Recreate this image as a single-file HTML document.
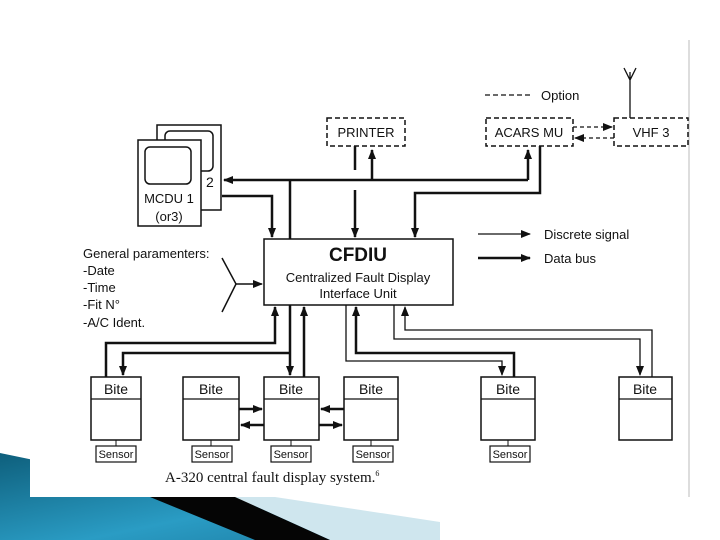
<!DOCTYPE html>
<html><head><meta charset="utf-8"><style>
html,body{margin:0;padding:0;background:#fff;width:720px;height:540px;overflow:hidden}
svg{display:block}
text{font-family:"Liberation Sans",sans-serif;fill:#111}
text.serif{font-family:"Liberation Serif",serif}
</style></head><body>
<svg width="720" height="540" viewBox="0 0 720 540" xmlns="http://www.w3.org/2000/svg">
<defs>
<marker id="a" markerWidth="10" markerHeight="8" refX="9" refY="4" orient="auto" markerUnits="userSpaceOnUse"><path d="M0,0 L10,4 L0,8 Z" fill="#111"/></marker>
<linearGradient id="bl" x1="0" y1="0" x2="1" y2="1"><stop offset="0" stop-color="#0e5f7c"/><stop offset="0.6" stop-color="#2a9cc4"/><stop offset="1" stop-color="#1c7aa0"/></linearGradient>
</defs>
<polygon points="0,453 420,540 0,540" fill="url(#bl)"/>
<polygon points="235,497 275,497 440,522 440,540 330,540" fill="#cfe6ee"/>
<polygon points="150,497 235,497 330,540 255,540" fill="#050505"/>
<rect x="30" y="40" width="660" height="457" fill="#fff"/>
<line x1="689" y1="40" x2="689" y2="497" stroke="#ddd" stroke-width="2"/>

<g stroke="#111" fill="none">
<rect x="157" y="125" width="64" height="85" stroke-width="1.5" fill="#fff"/>
<rect x="165" y="131" width="48" height="40" rx="5" stroke-width="1.5"/>
<rect x="138" y="140" width="63" height="86" stroke-width="1.5" fill="#fff"/>
<rect x="145" y="147" width="46" height="37" rx="5" stroke-width="1.5"/>
<rect x="327" y="118" width="78" height="28" stroke-width="1.5" stroke-dasharray="5,3"/>
<rect x="486" y="118" width="87" height="28" stroke-width="1.5" stroke-dasharray="5,3"/>
<rect x="614" y="118" width="74" height="28" stroke-width="1.5" stroke-dasharray="5,3"/>
<line x1="485" y1="95" x2="532" y2="95" stroke-width="1.3" stroke-dasharray="5,3"/>
<line x1="573" y1="127" x2="612" y2="127" stroke-width="1.3" stroke-dasharray="4,3" marker-end="url(#a)"/>
<line x1="614" y1="138" x2="575" y2="138" stroke-width="1.3" stroke-dasharray="4,3" marker-end="url(#a)"/>
<path d="M630,118 V72 M624,68 L630,80 L636,68" stroke-width="1.3"/>
<rect x="264" y="239" width="189" height="66" stroke-width="1.5" fill="#fff"/>
<line x1="528" y1="180" x2="224" y2="180" stroke-width="2.5" marker-end="url(#a)"/>
<line x1="372" y1="180" x2="372" y2="150" stroke-width="2.5" marker-end="url(#a)"/>
<line x1="528" y1="180" x2="528" y2="150" stroke-width="2.5" marker-end="url(#a)"/>
<line x1="290" y1="180" x2="290" y2="239" stroke-width="2.5"/>
<path d="M222,196 H272 V237" stroke-width="2.5" marker-end="url(#a)"/>
<line x1="355" y1="146" x2="355" y2="170" stroke-width="2.5"/>
<line x1="355" y1="190" x2="355" y2="237" stroke-width="2.5" marker-end="url(#a)"/>
<path d="M540,146 V193 H415 V237" stroke-width="2.5" marker-end="url(#a)"/>
<line x1="478" y1="234" x2="530" y2="234" stroke-width="1.3" marker-end="url(#a)"/>
<line x1="478" y1="258" x2="530" y2="258" stroke-width="2.5" marker-end="url(#a)"/>
<path d="M222,258 L236,284 L222,312" stroke-width="1.5"/>
<line x1="236" y1="284" x2="262" y2="284" stroke-width="1.5" marker-end="url(#a)"/>
<path d="M106,377 V343 H275 V307" stroke-width="2.5" marker-end="url(#a)"/>
<path d="M290,305 V375" stroke-width="2.5" marker-end="url(#a)"/>
<path d="M290,353 H123 V375" stroke-width="2.5" marker-end="url(#a)"/>
<path d="M304,377 V307" stroke-width="2.5" marker-end="url(#a)"/>
<path d="M346,305 V361 H502 V375" stroke-width="1.3" marker-end="url(#a)"/>
<path d="M514,377 V353 H356 V307" stroke-width="2.5" marker-end="url(#a)"/>
<path d="M394,305 V339 H640 V375" stroke-width="1.3" marker-end="url(#a)"/>
<path d="M652,377 V330 H405 V307" stroke-width="1.3" marker-end="url(#a)"/>
<g stroke-width="1.5" fill="#fff">
<rect x="91" y="377" width="50" height="63"/>
<rect x="183" y="377" width="56" height="63"/>
<rect x="264" y="377" width="55" height="63"/>
<rect x="344" y="377" width="54" height="63"/>
<rect x="481" y="377" width="54" height="63"/>
<rect x="619" y="377" width="53" height="63"/>
</g>
<path d="M91,399H141 M183,399H239 M264,399H319 M344,399H398 M481,399H535 M619,399H672" stroke-width="1.3"/>
<path d="M116,440V446 M211,440V446 M291,440V446 M371,440V446 M508,440V446" stroke-width="1"/>
<g stroke-width="1.2">
<rect x="96" y="446" width="40" height="16"/>
<rect x="192" y="446" width="40" height="16"/>
<rect x="271" y="446" width="40" height="16"/>
<rect x="353" y="446" width="40" height="16"/>
<rect x="490" y="446" width="40" height="16"/>
</g>
<line x1="239" y1="409" x2="262" y2="409" stroke-width="2.5" marker-end="url(#a)"/>
<line x1="264" y1="425" x2="241" y2="425" stroke-width="2.5" marker-end="url(#a)"/>
<line x1="344" y1="409" x2="321" y2="409" stroke-width="2.5" marker-end="url(#a)"/>
<line x1="319" y1="425" x2="342" y2="425" stroke-width="2.5" marker-end="url(#a)"/>
</g>

<g font-size="13">
<text x="206" y="187" font-size="14">2</text>
<text x="169" y="203" text-anchor="middle" font-size="13">MCDU 1</text>
<text x="169" y="221" text-anchor="middle" font-size="13">(or3)</text>
<text x="366" y="137" text-anchor="middle">PRINTER</text>
<text x="529" y="137" text-anchor="middle">ACARS MU</text>
<text x="651" y="137" text-anchor="middle">VHF 3</text>
<text x="541" y="100">Option</text>
<text x="544" y="239">Discrete signal</text>
<text x="544" y="263">Data bus</text>
<text x="358" y="261" text-anchor="middle" font-size="19" font-weight="bold">CFDIU</text>
<text x="358" y="282" text-anchor="middle">Centralized Fault Display</text>
<text x="358" y="298" text-anchor="middle">Interface Unit</text>
<text x="83" y="258">General paramenters:</text>
<text x="83" y="275">-Date</text>
<text x="83" y="292">-Time</text>
<text x="83" y="309">-Fit N°</text>
<text x="83" y="327">-A/C Ident.</text>
<text x="116" y="394" text-anchor="middle" font-size="14">Bite</text>
<text x="211" y="394" text-anchor="middle" font-size="14">Bite</text>
<text x="291" y="394" text-anchor="middle" font-size="14">Bite</text>
<text x="371" y="394" text-anchor="middle" font-size="14">Bite</text>
<text x="508" y="394" text-anchor="middle" font-size="14">Bite</text>
<text x="645" y="394" text-anchor="middle" font-size="14">Bite</text>
<g font-size="11" text-anchor="middle">
<text x="116" y="458">Sensor</text>
<text x="212" y="458">Sensor</text>
<text x="291" y="458">Sensor</text>
<text x="373" y="458">Sensor</text>
<text x="510" y="458">Sensor</text>
</g>
<text class="serif" x="165" y="482" font-size="15">A-320 central fault display system.<tspan font-size="8" dy="-6">6</tspan></text>
</g>
</svg>
</body></html>
